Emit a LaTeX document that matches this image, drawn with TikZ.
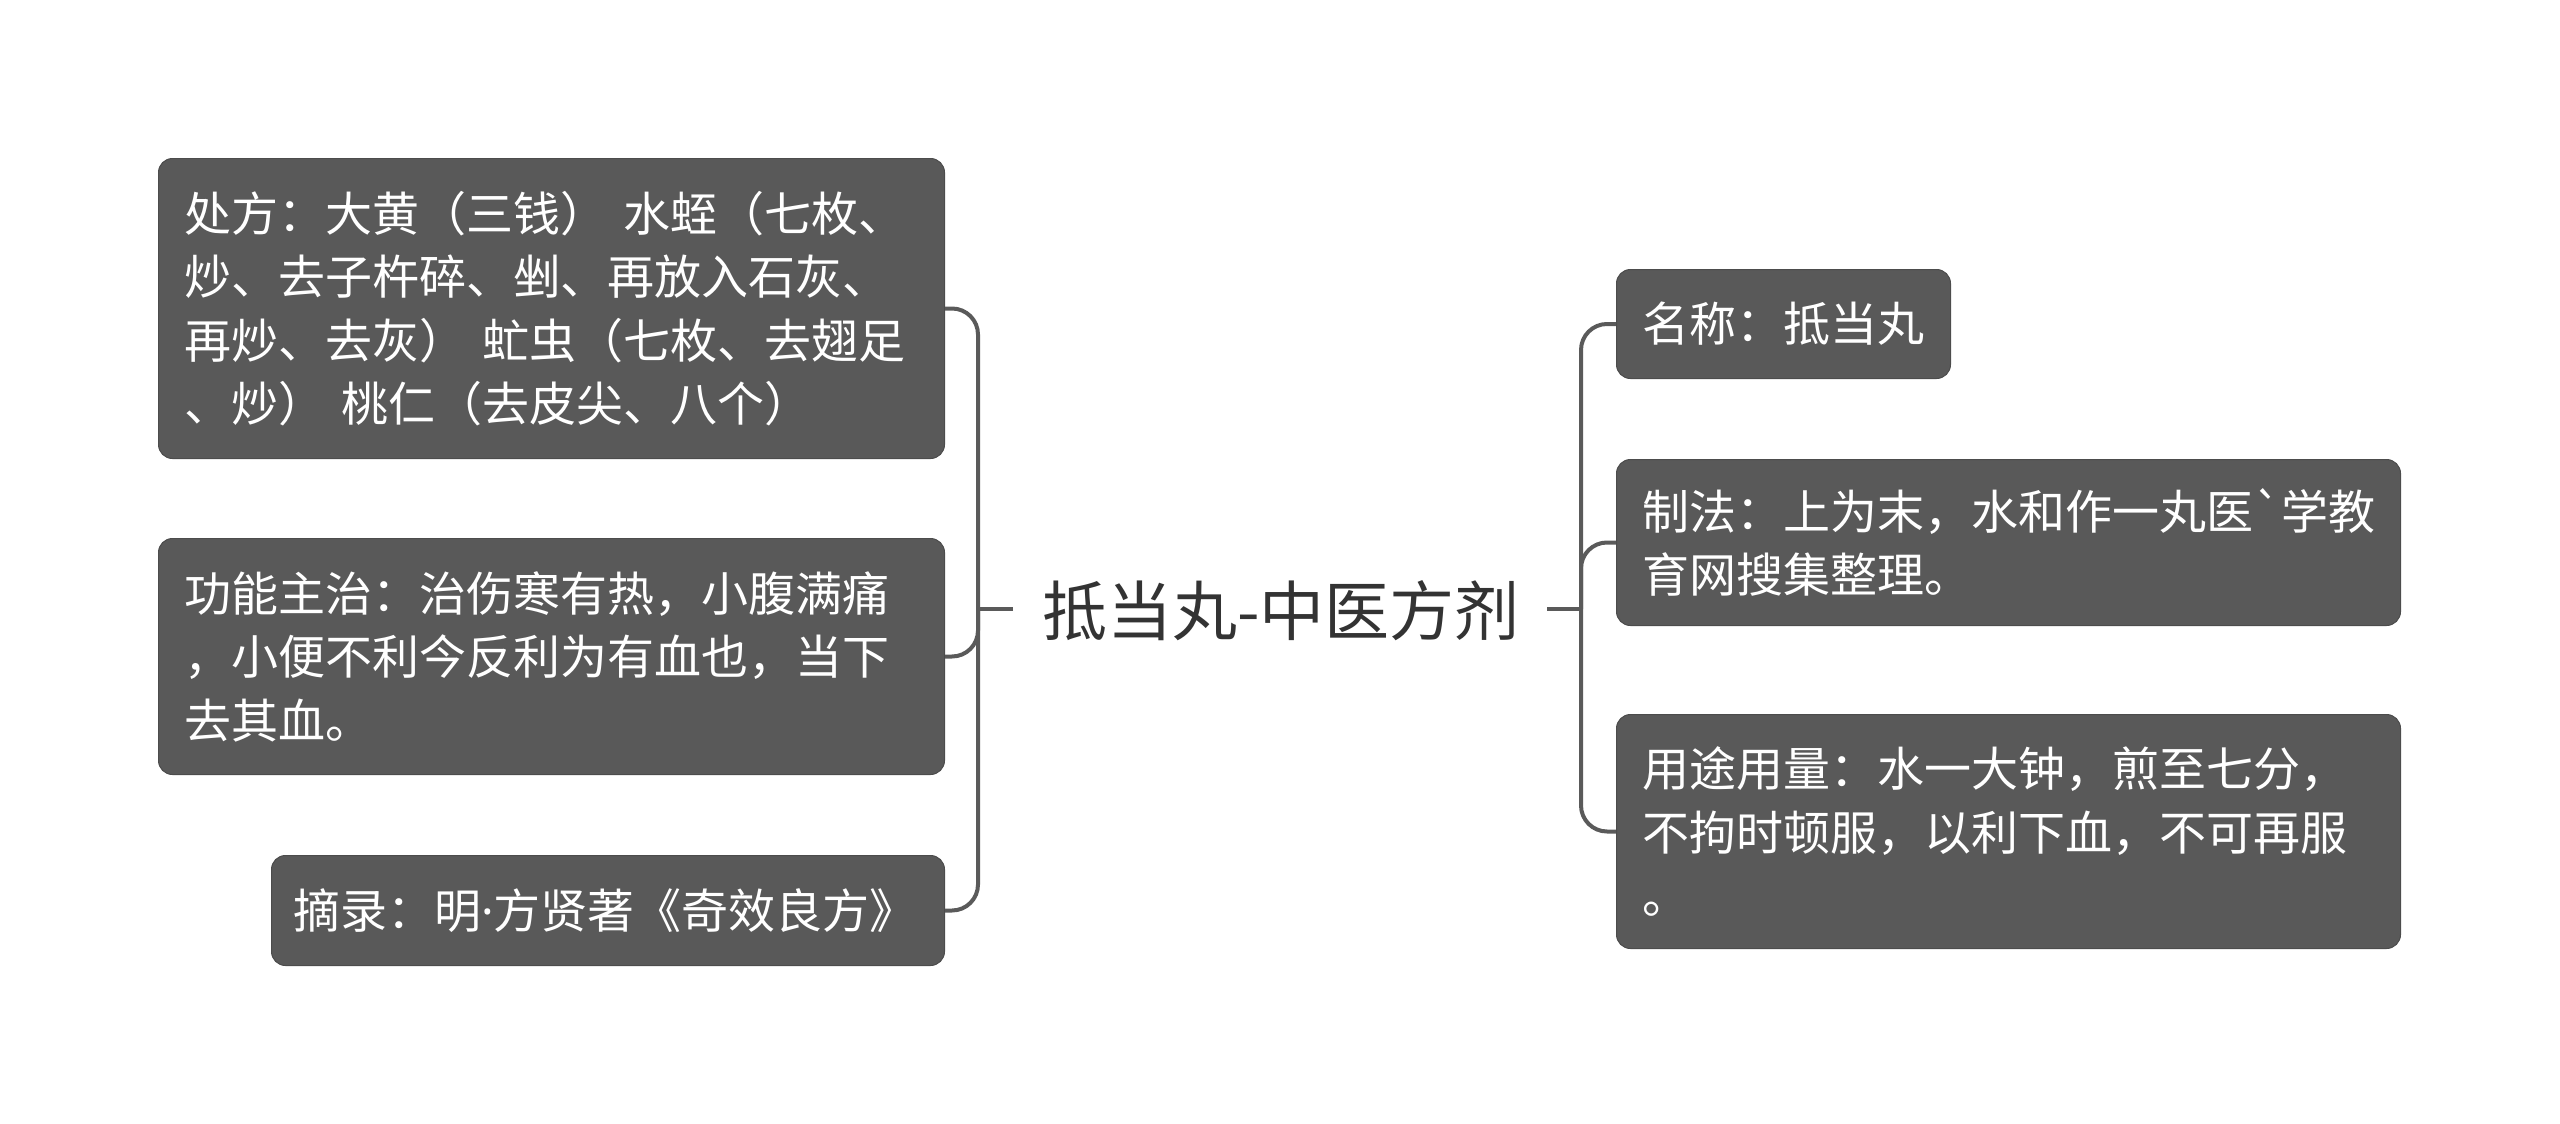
\documentclass[tikz,border=0pt]{standalone}
\usepackage{fontspec}
\setmainfont{Noto Sans CJK SC}
\newfontfamily\rawcjk{Noto Sans CJK SC}[Ligatures=TeXOff]
\newfontfamily\latf{Noto Sans}
\definecolor{boxg}{HTML}{595959}
\definecolor{lineg}{HTML}{5A5A5A}
\definecolor{textd}{HTML}{333333}
\begin{document}
\begin{tikzpicture}[x=1pt,y=-1pt,
  box/.style={draw=boxg!85!black, line width=1pt, fill=boxg, rounded corners=14pt,
    text=white, anchor=north west, align=left, inner xsep=26pt, inner ysep=0pt,
    font=\fontsize{47}{63.5}\selectfont},
  conn/.style={draw=lineg, line width=4pt, rounded corners=26pt},
  centre/.style={font=\fontsize{65}{72}\selectfont, text=textd, inner sep=0pt}]
\useasboundingbox (0,0) rectangle (2560,1124);

% left boxes
\node[box, minimum width=786pt, minimum height=300pt, text width=734pt] (b1) at (158,158)
  {处方：大黄（三钱） 水蛭（七枚、\\炒、去子杵碎、剉、再放入石灰、\\再炒、去灰） 虻虫（七枚、去翅足\\、炒） 桃仁（去皮尖、八个）};
\node[box, minimum width=786pt, minimum height=236pt, text width=734pt] (b2) at (158,538)
  {功能主治：治伤寒有热，小腹满痛\\，小便不利今反利为有血也，当下\\去其血。};
\node[box, minimum width=673pt, minimum height=110pt, text width=630pt, inner xsep=21.5pt] (b3) at (271,855)
  {摘录：明{\latf ·}方贤著《奇效良方》};

% right boxes
\node[box, minimum width=334pt, minimum height=109pt, text width=282pt] (r1) at (1616,269)
  {名称：抵当丸};
\node[box, minimum width=784pt, minimum height=166pt, text width=732pt] (r2) at (1616,459)
  {制法：上为末，水和作一丸医{\rawcjk `}学教\\育网搜集整理。};
\node[box, minimum width=784pt, minimum height=234pt, text width=732pt] (r3) at (1616,714)
  {用途用量：水一大钟，煎至七分，\\不拘时顿服，以利下血，不可再服\\。};

% centre
\node[centre] (c) at (1281,611) {抵当丸-中医方剂};

\coordinate (cl) at (1013,609);
\coordinate (jl) at (978,609);
\coordinate (cr) at (1547,609);
\coordinate (jr) at (1581,609);

\draw[conn] (cl) -- (jl);
\draw[conn] (jl) |- (b1.east);
\draw[conn] (jl) |- (b2.east);
\draw[conn] (jl) |- (b3.east);

\draw[conn] (cr) -- (jr);
\draw[conn] (jr) |- (r1.west);
\draw[conn] (jr) |- (r2.west);
\draw[conn] (jr) |- (r3.west);
\end{tikzpicture}
\end{document}
